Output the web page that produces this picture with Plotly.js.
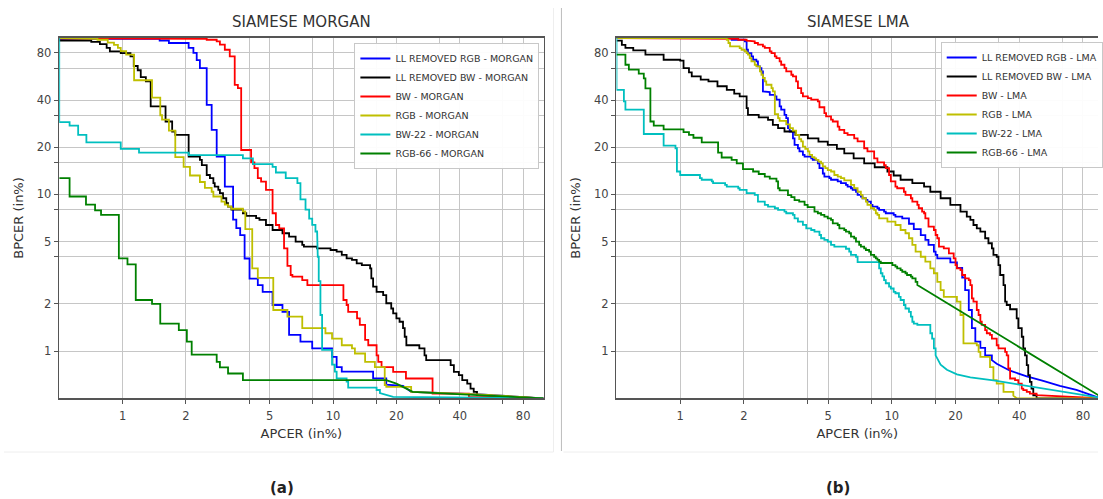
<!DOCTYPE html>
<html><head><meta charset="utf-8">
<script src="https://cdn.plot.ly/plotly-3.0.1.min.js"></script>
<style>html,body{margin:0;padding:0;background:#fff;overflow:hidden;width:1103px;height:499px}#chart{width:1103px;height:499px;overflow:hidden}</style>
</head><body><div id="chart"></div>
<script>
// ---------- tick / grid values ----------
const gridVals = [1, 2, 4, 5, 8, 10, 16, 20, 32, 40, 64, 80];
const gridText = ['1', '2', '', '5', '', '10', '', '20', '', '40', '', '80'];

const morganNames = ['LL REMOVED RGB - MORGAN', 'LL REMOVED BW - MORGAN', 'BW - MORGAN', 'RGB - MORGAN', 'BW-22 - MORGAN', 'RGB-66 - MORGAN'];
const lmaNames = ['LL REMOVED RGB - LMA', 'LL REMOVED BW - LMA', 'BW - LMA', 'RGB - LMA', 'BW-22 - LMA', 'RGB-66 - LMA'];

// ---------- (a) SIAMESE MORGAN : APCER / BPCER (%) step corners + linear tails ----------
const morganBlueX = [0.5, 1.5, 1.66, 2.06, 2.17, 2.25, 2.33, 2.51, 2.65, 2.80, 3.06, 3.35, 3.47, 3.62, 3.80, 4.01, 4.39, 4.63, 5.16, 5.75, 6.18, 7.0, 7.96, 9.89, 10.4, 11.0, 15.5, 17.9];
const morganBlueY = [98.5, 96, 92.5, 86, 80, 72, 64, 37.3, 25.8, 17.4, 11.2, 6.9, 6.1, 5.5, 3.9, 2.9, 2.64, 2.39, 1.97, 1.78, 1.27, 1.15, 1.04, 0.92, 0.79, 0.74, 0.67, 0.61];
const morganBlueTailX = [21.5, 23.5, 50, 100];
const morganBlueTailY = [0.6, 0.55, 0.53, 0.5];

const morganBlackX = [0.5, 0.71, 0.78, 0.84, 0.87, 0.98, 1.09, 1.13, 1.18, 1.22, 1.29, 1.36, 1.60, 1.72, 1.78, 2.06, 2.33, 2.38, 2.51, 2.60, 2.70, 2.74, 2.85, 2.90, 3.0, 3.11, 3.17, 3.29, 3.73, 3.87, 4.31, 4.47, 4.80, 5.16, 5.75, 6.18, 6.64, 7.14, 7.27, 8.4, 9.73, 10.4, 11.0, 11.6, 12.3, 12.95, 13.7, 15.0, 15.2, 15.5, 16.1, 17.3, 17.9, 18.9, 19.3, 20.0, 20.7, 21.5, 21.9, 22.3, 25.7, 27.2, 27.7, 36.2, 37.5, 39.6, 41.1, 43.4, 45.0, 46.6, 48.3];
const morganBlackY = [96, 94, 91, 86, 81.8, 79.8, 76, 66, 62, 56, 52.6, 36.5, 29.2, 25.2, 24, 17.4, 16.6, 15.4, 13.3, 12.7, 11.8, 11.2, 10.7, 10.2, 9.45, 8.78, 8.36, 8.0, 7.58, 7.3, 7.05, 6.87, 6.38, 5.93, 5.65, 5.38, 5.0, 4.76, 4.64, 4.53, 4.42, 4.31, 4.11, 3.91, 3.82, 3.63, 3.54, 3.37, 2.91, 2.58, 2.39, 2.28, 2.02, 1.87, 1.74, 1.62, 1.54, 1.40, 1.235, 1.09, 1.04, 0.94, 0.876, 0.814, 0.738, 0.703, 0.653, 0.621, 0.577, 0.55, 0.523];
const morganBlackTailX = [100];
const morganBlackTailY = [0.5];

const morganRedX = [0.5, 2.09, 2.51, 2.80, 2.90, 3.06, 3.23, 3.41, 3.53, 3.66, 4.08, 4.23, 4.39, 4.55, 4.80, 5.16, 5.35, 5.55, 5.85, 6.07, 6.29, 6.41, 7.14, 7.55, 11.2, 11.6, 11.8, 13.0, 13.4, 14.2, 14.7, 16.1, 16.4, 17.0, 19.3, 22.2, 29.7, 44.2];
const morganRedY = [99, 98.5, 97, 94.8, 90.2, 83.8, 76, 50, 47.7, 19.2, 16, 14.7, 12.7, 12.08, 10.7, 7.58, 6.38, 6.08, 4.53, 3.5, 3.06, 2.99, 2.84, 2.64, 2.12, 1.97, 1.78, 1.62, 1.47, 1.18, 1.09, 0.94, 0.855, 0.79, 0.738, 0.669, 0.536, 0.51];
const morganRedTailX = [100];
const morganRedTailY = [0.5];

const morganYellowX = [0.5, 0.69, 0.76, 0.85, 0.91, 0.95, 0.98, 1.04, 1.134, 1.38, 1.51, 1.54, 1.66, 1.78, 1.95, 2.09, 2.33, 2.46, 2.65, 2.70, 2.95, 3.06, 3.17, 3.29, 3.73, 3.83, 4.13, 4.39, 5.2, 6.07, 7.14, 9.2, 9.89, 11.0, 12.3, 12.7, 14.2, 15.8, 17.6, 17.9, 23.5];
const morganYellowY = [99.5, 98.5, 97, 93, 90, 86, 82, 78, 53.5, 41.5, 32, 30, 25.5, 17.3, 15, 13.2, 12, 11, 10.4, 9.7, 9.0, 8.6, 8.36, 8.1, 7.8, 6.0, 3.37, 2.93, 1.83, 1.66, 1.40, 1.30, 1.20, 1.09, 1.04, 0.966, 0.855, 0.79, 0.607, 0.592, 0.55];
const morganYellowTailX = [49.2, 100];
const morganYellowTailY = [0.53, 0.5];

const morganCyanX = [0.5, 0.5, 0.56, 0.615, 0.673, 0.98, 1.197, 2.06, 3.73, 4.16, 5.16, 5.35, 5.96, 6.77, 7.0, 7.4, 7.7, 7.96, 8.25, 8.4, 8.46, 8.55, 8.71, 8.87, 9.89, 10.2, 10.4, 11.6, 11.8, 16.1, 16.7];
const morganCyanY = [100, 28.9, 27.5, 24, 21.5, 19.5, 18.5, 17.8, 17.0, 15.6, 15.0, 13.8, 12.7, 11.8, 9.3, 8.0, 7.0, 6.4, 5.8, 5.0, 4.0, 2.8, 1.7, 1.02, 0.82, 0.74, 0.67, 0.64, 0.585, 0.565, 0.54];
const morganCyanTailX = [19.3, 100];
const morganCyanTailY = [0.51, 0.5];

const morganGreenX = [0.5, 0.56, 0.67, 0.74, 0.79, 0.96, 1.055, 1.155, 1.38, 1.51, 1.85, 2.02, 2.13, 2.80, 2.9, 3.17, 3.73];
const morganGreenY = [12.7, 9.7, 8.6, 7.9, 7.4, 3.91, 3.58, 2.12, 2.0, 1.50, 1.36, 1.15, 0.95, 0.855, 0.787, 0.72, 0.653];
const morganGreenTailX = [17.9, 20, 23.9, 41, 84.5, 100];
const morganGreenTailY = [0.653, 0.62, 0.55, 0.53, 0.51, 0.5];

// ---------- (b) SIAMESE LMA ----------
const lmaBlueX = [0.5, 1.75, 2.02, 2.06, 2.09, 2.17, 2.21, 2.29, 2.33, 2.38, 2.42, 2.46, 2.60, 2.65, 2.80, 2.85, 2.95, 3.0, 3.11, 3.17, 3.23, 3.29, 3.41, 3.47, 3.60, 3.66, 3.80, 3.87, 4.16, 4.23, 4.47, 4.55, 4.72, 4.80, 5.07, 5.16, 5.55, 5.75, 6.07, 6.18, 6.41, 6.53, 6.77, 6.89, 7.14, 7.27, 7.54, 7.67, 7.96, 8.1, 8.55, 8.71, 9.19, 9.36, 10.2, 10.4, 11.2, 12.05, 12.7, 13.7, 14.4, 14.9, 15.8, 16.1, 16.4, 18.9, 20.3, 21.5, 22.2, 23.1, 23.9, 24.8, 26.2, 27.6, 29.7];
const lmaBlueY = [99.3, 97, 94.8, 83.8, 79.8, 76, 72.3, 70.6, 65.6, 64, 60.9, 45.4, 45.0, 43.2, 42.2, 40.2, 36.5, 34.8, 32.2, 30.7, 26.5, 25.2, 22.8, 20.7, 19.7, 18.8, 17.9, 17.4, 17.0, 16.6, 15.8, 14.7, 13.6, 13.0, 12.7, 12.4, 12.1, 11.8, 11.5, 11.2, 10.95, 10.7, 10.4, 9.93, 9.7, 9.45, 9.22, 9.0, 8.57, 8.36, 8.16, 7.96, 7.77, 7.58, 7.4, 7.22, 7.04, 6.5, 6.0, 5.5, 5.12, 4.76, 4.31, 4.11, 3.91, 3.68, 3.4, 2.95, 2.45, 1.83, 1.4, 1.15, 1.05, 0.94, 0.876];
const lmaBlueTailX = [31.3, 36.2, 43.4, 51.9, 62.2, 74.5, 92.5, 100];
const lmaBlueTailY = [0.83, 0.75, 0.69, 0.645, 0.6, 0.565, 0.51, 0.5];

const lmaBlackX = [0.5, 0.53, 0.551, 0.6, 0.685, 0.835, 1.0, 1.037, 1.1, 1.134, 1.25, 1.36, 1.5, 1.66, 1.8, 1.91, 2.06, 2.09, 2.35, 2.60, 2.74, 2.9, 3.11, 3.5, 4.01, 4.5, 4.98, 5.5, 5.96, 6.6, 7.40, 8.3, 9.53, 10.2, 11.0, 12.5, 14.2, 15.2, 17.0, 18.9, 21.1, 22.6, 23.5, 24.3, 25.2, 26.2, 27.6, 28.6, 29.7, 30.2, 31.3, 31.9, 32.5, 33.7, 34.3, 34.9, 36.2, 38.9, 39.6, 41.1, 41.8, 42.6, 43.4, 44.1, 44.9, 45.7, 46.6, 48.3];
const lmaBlackY = [95.7, 90, 86, 83, 78, 72.3, 71.3, 64, 60, 56.6, 54, 52.6, 49, 46.5, 44, 42.2, 35.5, 32.2, 31, 29.9, 27.8, 26.5, 25.2, 24, 22.8, 21.7, 20.7, 19.5, 18.3, 17, 15.8, 14.9, 14.0, 13.2, 12.4, 11.8, 11.2, 10.4, 9.45, 8.57, 7.77, 7.22, 6.87, 6.38, 6.08, 5.79, 5.25, 4.88, 4.53, 4.11, 4.0, 3.54, 3.06, 2.64, 2.07, 1.97, 1.85, 1.62, 1.40, 1.235, 1.04, 0.94, 0.814, 0.703, 0.637, 0.577, 0.523, 0.5];
const lmaBlackTailX = [100];
const lmaBlackTailY = [0.5];

const lmaRedX = [0.5, 1.72, 1.88, 2.06, 2.09, 2.25, 2.33, 2.46, 2.51, 2.65, 2.70, 2.80, 2.85, 2.95, 3.0, 3.11, 3.17, 3.35, 3.41, 3.53, 3.60, 3.73, 3.80, 4.01, 4.16, 4.47, 4.55, 4.80, 4.89, 5.16, 5.26, 5.55, 5.65, 5.96, 6.18, 6.64, 6.89, 7.40, 7.67, 8.25, 8.55, 9.19, 9.36, 9.70, 9.89, 10.4, 10.6, 11.4, 11.6, 12.3, 12.5, 13.2, 13.4, 13.9, 14.2, 14.4, 14.9, 15.8, 16.1, 16.4, 16.7, 17.6, 18.6, 19.6, 20.0, 20.3, 21.1, 21.5, 22.2, 23.1, 23.5, 23.9, 24.3, 25.2, 25.7, 26.2, 26.6, 27.6, 28.1, 29.1, 29.7, 31.3, 31.9, 34.3, 34.9, 35.5, 36.2, 38.2, 39.6, 41.1, 41.8, 43.4, 44.9, 48.3];
const lmaRedY = [99.3, 98.5, 97, 95.7, 94.8, 92.5, 90.2, 88, 86, 81.8, 79.8, 76, 74.1, 70.6, 67.2, 64, 60.9, 58, 56.6, 52.6, 47.7, 44.3, 42.2, 41.2, 40.2, 39.2, 36, 33.0, 31.5, 30.0, 29.2, 27.1, 25.8, 24.6, 24, 22.8, 21.8, 19.7, 18.8, 17.0, 16, 15.4, 14.7, 13.3, 12.1, 11.2, 10.95, 10.4, 9.93, 9.45, 9.0, 8.57, 8.16, 7.77, 7.58, 7.04, 6.23, 5.93, 5.51, 5.25, 4.64, 4.53, 4.21, 3.91, 3.54, 3.37, 3.29, 3.06, 2.91, 2.84, 2.64, 2.17, 2.07, 1.83, 1.70, 1.54, 1.47, 1.36, 1.30, 1.27, 1.20, 1.09, 1.04, 0.99, 0.94, 0.775, 0.669, 0.653, 0.621, 0.577, 0.563, 0.55, 0.536, 0.523];
const lmaRedTailX = [100];
const lmaRedTailY = [0.5];

const lmaYellowX = [0.5, 1.66, 1.69, 1.72, 1.91, 1.95, 2.02, 2.06, 2.09, 2.13, 2.17, 2.25, 2.29, 2.38, 2.42, 2.46, 2.51, 2.55, 2.70, 2.74, 2.80, 2.90, 2.95, 3.17, 3.3, 3.41, 3.53, 3.65, 3.73, 3.80, 3.9, 4.01, 4.08, 4.2, 4.31, 4.39, 4.5, 4.63, 4.72, 4.85, 4.98, 5.16, 5.35, 5.55, 5.75, 5.96, 6.41, 6.64, 6.89, 7.14, 7.27, 7.54, 7.67, 7.96, 8.25, 8.4, 8.55, 8.71, 9.53, 10.4, 11.0, 11.6, 12.05, 12.5, 12.95, 13.7, 14.4, 15.2, 15.8, 16.4, 17.0, 17.6, 20.3, 21.1, 21.8, 25.2, 25.7, 26.2, 29.1, 30.2, 31.3, 33.7, 37.5];
const lmaYellowY = [99.3, 97, 92.5, 88, 85.9, 83.8, 81.8, 79.8, 77.9, 74.1, 70.6, 67.2, 65.6, 60.9, 58, 55.3, 52.6, 50.1, 47.7, 45.4, 32.5, 30.7, 29.5, 28, 26.5, 25.5, 24, 22.5, 21.8, 20.2, 19.5, 18.8, 17.9, 17.3, 17.0, 16.6, 16.2, 15.8, 15.1, 14.7, 14.3, 14.0, 13.3, 13.0, 12.7, 12.3, 11.5, 10.95, 10.4, 9.93, 9.45, 9.0, 8.57, 8.16, 7.96, 7.58, 7.4, 7.04, 6.7, 6.38, 5.93, 5.65, 5.25, 4.76, 4.31, 4.0, 3.72, 3.37, 3.14, 2.77, 2.45, 2.22, 2.07, 1.70, 1.12, 1.09, 0.99, 0.92, 0.79, 0.653, 0.621, 0.55, 0.52];
const lmaYellowTailX = [38.9, 100];
const lmaYellowTailY = [0.5, 0.5];

const lmaCyanX = [0.5, 0.5, 0.542, 0.551, 0.673, 0.835, 0.95, 0.965, 1.0, 1.24, 1.264, 1.41, 1.43, 1.63, 1.66, 1.88, 1.91, 2.06, 2.25, 2.33, 2.51, 2.60, 2.80, 2.90, 3.11, 3.17, 3.41, 3.47, 3.60, 3.80, 3.94, 4.16, 4.31, 4.55, 4.63, 4.80, 4.98, 5.16, 5.35, 6.07, 6.29, 6.41, 6.77, 6.89, 8.71, 8.87, 9.03, 9.19, 9.36, 9.70, 9.89, 10.2, 10.4, 10.8, 11.0, 11.4, 11.6, 12.05, 12.3, 12.5, 12.7, 13.2, 15.2, 15.5, 15.8, 16.1];
const lmaCyanY = [100, 46.5, 39.2, 34.8, 24.3, 20.5, 19.7, 14.0, 13.3, 12.7, 12.4, 12.1, 11.8, 11.5, 11.2, 10.95, 10.7, 10.2, 9.93, 9.0, 8.57, 8.36, 8.16, 7.96, 7.77, 7.58, 7.4, 7.04, 6.7, 6.4, 6.08, 5.93, 5.79, 5.51, 5.25, 5.12, 5.0, 4.76, 4.64, 4.5, 4.31, 4.11, 4.0, 3.7, 3.37, 3.14, 3.0, 2.84, 2.71, 2.58, 2.51, 2.39, 2.34, 2.22, 2.12, 1.97, 1.87, 1.78, 1.66, 1.54, 1.50, 1.47, 1.3, 1.2, 1.04, 0.94];
const lmaCyanTailX = [17.0, 18.2, 20.3, 23.5, 30.2, 43.4, 62.2, 92.5, 100];
const lmaCyanTailY = [0.82, 0.76, 0.71, 0.68, 0.65, 0.6, 0.56, 0.51, 0.5];

const lmaGreenX = [0.5, 0.551, 0.572, 0.637, 0.673, 0.685, 0.723, 0.75, 0.835, 1.037, 1.1, 1.155, 1.264, 1.51, 1.57, 1.75, 1.85, 1.98, 2.21, 2.35, 2.51, 2.65, 2.85, 2.90, 2.95, 3.23, 3.35, 3.47, 3.65, 3.87, 4.0, 4.31, 4.47, 4.63, 4.80, 4.98, 5.16, 5.26, 5.55, 5.65, 5.96, 6.07, 6.29, 6.41, 6.64, 6.77, 7.01, 7.14, 7.40, 7.54, 7.81, 7.96, 8.25, 8.40, 8.55, 8.71, 8.87, 10.06, 10.4, 10.6, 11.0, 11.2, 11.6, 11.8, 12.3, 12.5, 12.95, 13.2];
const lmaGreenY = [77.9, 67.2, 62.5, 59, 55, 47.5, 29.2, 27.5, 26, 25, 24, 23, 21.5, 18.5, 17.2, 16.6, 15.8, 14.5, 14.0, 13.5, 13.0, 12.6, 12.1, 10.95, 10.6, 9.9, 9.6, 9.2, 9.0, 8.57, 8.3, 7.77, 7.58, 7.4, 7.22, 7.04, 6.87, 6.54, 6.38, 6.08, 5.93, 5.79, 5.65, 5.38, 5.25, 5.0, 4.76, 4.64, 4.53, 4.42, 4.31, 4.11, 4.0, 3.91, 3.82, 3.72, 3.65, 3.54, 3.46, 3.37, 3.29, 3.21, 3.14, 3.06, 2.99, 2.91, 2.77, 2.64];
const lmaGreenTailX = [100];
const lmaGreenTailY = [0.5];

const seriesColors = ['#0000ff', '#000000', '#ff0000', '#bfbf00', '#00bfbf', '#008000'];

// step corners -> "hv" staircase vertices, then the linear tail
function buildPath(sx, sy, tx, ty) {
  const x = [], y = [];
  for (let i = 0; i < sx.length; i++) {
    x.push(sx[i]); y.push(sy[i]);
    if (i < sx.length - 1) { x.push(sx[i + 1]); y.push(sy[i]); }
  }
  for (let j = 0; j < tx.length; j++) { x.push(tx[j]); y.push(ty[j]); }
  return { x, y };
}

const morganSets = [
  [morganBlueX, morganBlueY, morganBlueTailX, morganBlueTailY],
  [morganBlackX, morganBlackY, morganBlackTailX, morganBlackTailY],
  [morganRedX, morganRedY, morganRedTailX, morganRedTailY],
  [morganYellowX, morganYellowY, morganYellowTailX, morganYellowTailY],
  [morganCyanX, morganCyanY, morganCyanTailX, morganCyanTailY],
  [morganGreenX, morganGreenY, morganGreenTailX, morganGreenTailY]
];
const lmaSets = [
  [lmaBlueX, lmaBlueY, lmaBlueTailX, lmaBlueTailY],
  [lmaBlackX, lmaBlackY, lmaBlackTailX, lmaBlackTailY],
  [lmaRedX, lmaRedY, lmaRedTailX, lmaRedTailY],
  [lmaYellowX, lmaYellowY, lmaYellowTailX, lmaYellowTailY],
  [lmaCyanX, lmaCyanY, lmaCyanTailX, lmaCyanTailY],
  [lmaGreenX, lmaGreenY, lmaGreenTailX, lmaGreenTailY]
];

const traces = [];
morganSets.forEach((s, i) => {
  const p = buildPath(s[0], s[1], s[2], s[3]);
  traces.push({ type: 'scatter', mode: 'lines', x: p.x, y: p.y, name: morganNames[i],
    line: { color: seriesColors[i], width: 1.8 }, xaxis: 'x', yaxis: 'y', legend: 'legend', hoverinfo: 'skip' });
});
lmaSets.forEach((s, i) => {
  const p = buildPath(s[0], s[1], s[2], s[3]);
  traces.push({ type: 'scatter', mode: 'lines', x: p.x, y: p.y, name: lmaNames[i],
    line: { color: seriesColors[i], width: 1.8 }, xaxis: 'x2', yaxis: 'y2', legend: 'legend2', hoverinfo: 'skip' });
});

const W = 1103, H = 499;
const FONT = 'DejaVu Sans, Verdana, sans-serif';
const lo = Math.log10(0.5);

function axisBase(extra) {
  return Object.assign({
    type: 'log', tickmode: 'array', tickvals: gridVals, ticktext: gridText,
    showgrid: true, gridcolor: '#c6c6c6', gridwidth: 1, zeroline: false,
    showline: true, linecolor: '#555555', linewidth: 1.5,
    ticks: 'outside', ticklen: 4, tickcolor: '#555555', tickwidth: 1,
    tickfont: { family: FONT, size: 11.5, color: '#444444' },
    automargin: false, fixedrange: true
  }, extra);
}

const yDom = [1 - 398.3 / H, 1 - 37.7 / H];
const xTitle = { text: 'APCER (in%)', font: { family: FONT, size: 13, color: '#333333' }, standoff: 7 };
const yTitle = { text: 'BPCER (in%)', font: { family: FONT, size: 13, color: '#333333' }, standoff: 10 };
const legendBase = { xanchor: 'left', yanchor: 'top',
  bgcolor: 'rgba(255,255,255,0.95)', bordercolor: '#c8c8c8', borderwidth: 1,
  font: { family: FONT, size: 9.5, color: '#333333' }, tracegroupgap: 0 };

const layout = {
  width: W, height: H, margin: { l: 0, r: 0, t: 0, b: 0 },
  paper_bgcolor: '#ffffff', plot_bgcolor: '#ffffff', showlegend: true,
  font: { family: FONT, color: '#333333' },
  xaxis: axisBase({ domain: [59.5 / W, 546 / W], range: [lo, 2], mirror: true, anchor: 'y',
    ticklabelstandoff: 2, title: xTitle }),
  yaxis: axisBase({ domain: yDom, range: [lo, 2], mirror: true, anchor: 'x', title: yTitle }),
  xaxis2: axisBase({ domain: [619.3 / W, 1], range: [lo, lo + (W - 619.3) / 212.6], mirror: true, anchor: 'y2',
    ticklabelstandoff: 2, title: xTitle }),
  yaxis2: axisBase({ domain: yDom, range: [lo, 2], mirror: false, anchor: 'x2', title: yTitle }),
  legend: Object.assign({ x: 356 / W, y: 1 - 43 / H }, legendBase),
  legend2: Object.assign({ x: 945 / W, y: 1 - 42 / H }, legendBase),
  annotations: [
    { text: 'SIAMESE MORGAN', xref: 'paper', yref: 'paper', x: (59.5 + 546) / 2 / W, y: 1 - 22 / H,
      xanchor: 'center', yanchor: 'middle', showarrow: false, font: { family: FONT, size: 15, color: '#333333' } },
    { text: 'SIAMESE LMA', xref: 'paper', yref: 'paper', x: (619.3 + 1106) / 2 / W, y: 1 - 22 / H,
      xanchor: 'center', yanchor: 'middle', showarrow: false, font: { family: FONT, size: 15, color: '#333333' } },
    { text: '<b>(a)</b>', xref: 'paper', yref: 'paper', x: 283 / W, y: 1 - 488 / H,
      xanchor: 'center', yanchor: 'middle', showarrow: false, font: { family: FONT, size: 15, color: '#222222' } },
    { text: '<b>(b)</b>', xref: 'paper', yref: 'paper', x: 842 / W, y: 1 - 488 / H,
      xanchor: 'center', yanchor: 'middle', showarrow: false, font: { family: FONT, size: 15, color: '#222222' } }
  ],
  shapes: [
    { type: 'line', xref: 'paper', yref: 'paper', x0: 564 / W, x1: 564 / W, y0: 1 - 8 / H, y1: 1 - 451 / H,
      line: { color: '#bdbdbd', width: 1 } },
    { type: 'line', xref: 'paper', yref: 'paper', x0: 4 / W, x1: 556 / W, y0: 1 - 452 / H, y1: 1 - 452 / H,
      line: { color: '#eeeeee', width: 1 } },
    { type: 'line', xref: 'paper', yref: 'paper', x0: 556 / W, x1: 556 / W, y0: 1 - 8 / H, y1: 1 - 452 / H,
      line: { color: '#eeeeee', width: 1 } },
    { type: 'line', xref: 'paper', yref: 'paper', x0: 566 / W, x1: 1, y0: 1 - 452 / H, y1: 1 - 452 / H,
      line: { color: '#eeeeee', width: 1 } }
  ]
};

Plotly.newPlot('chart', traces, layout, { displayModeBar: false, staticPlot: true });
</script></body></html>
